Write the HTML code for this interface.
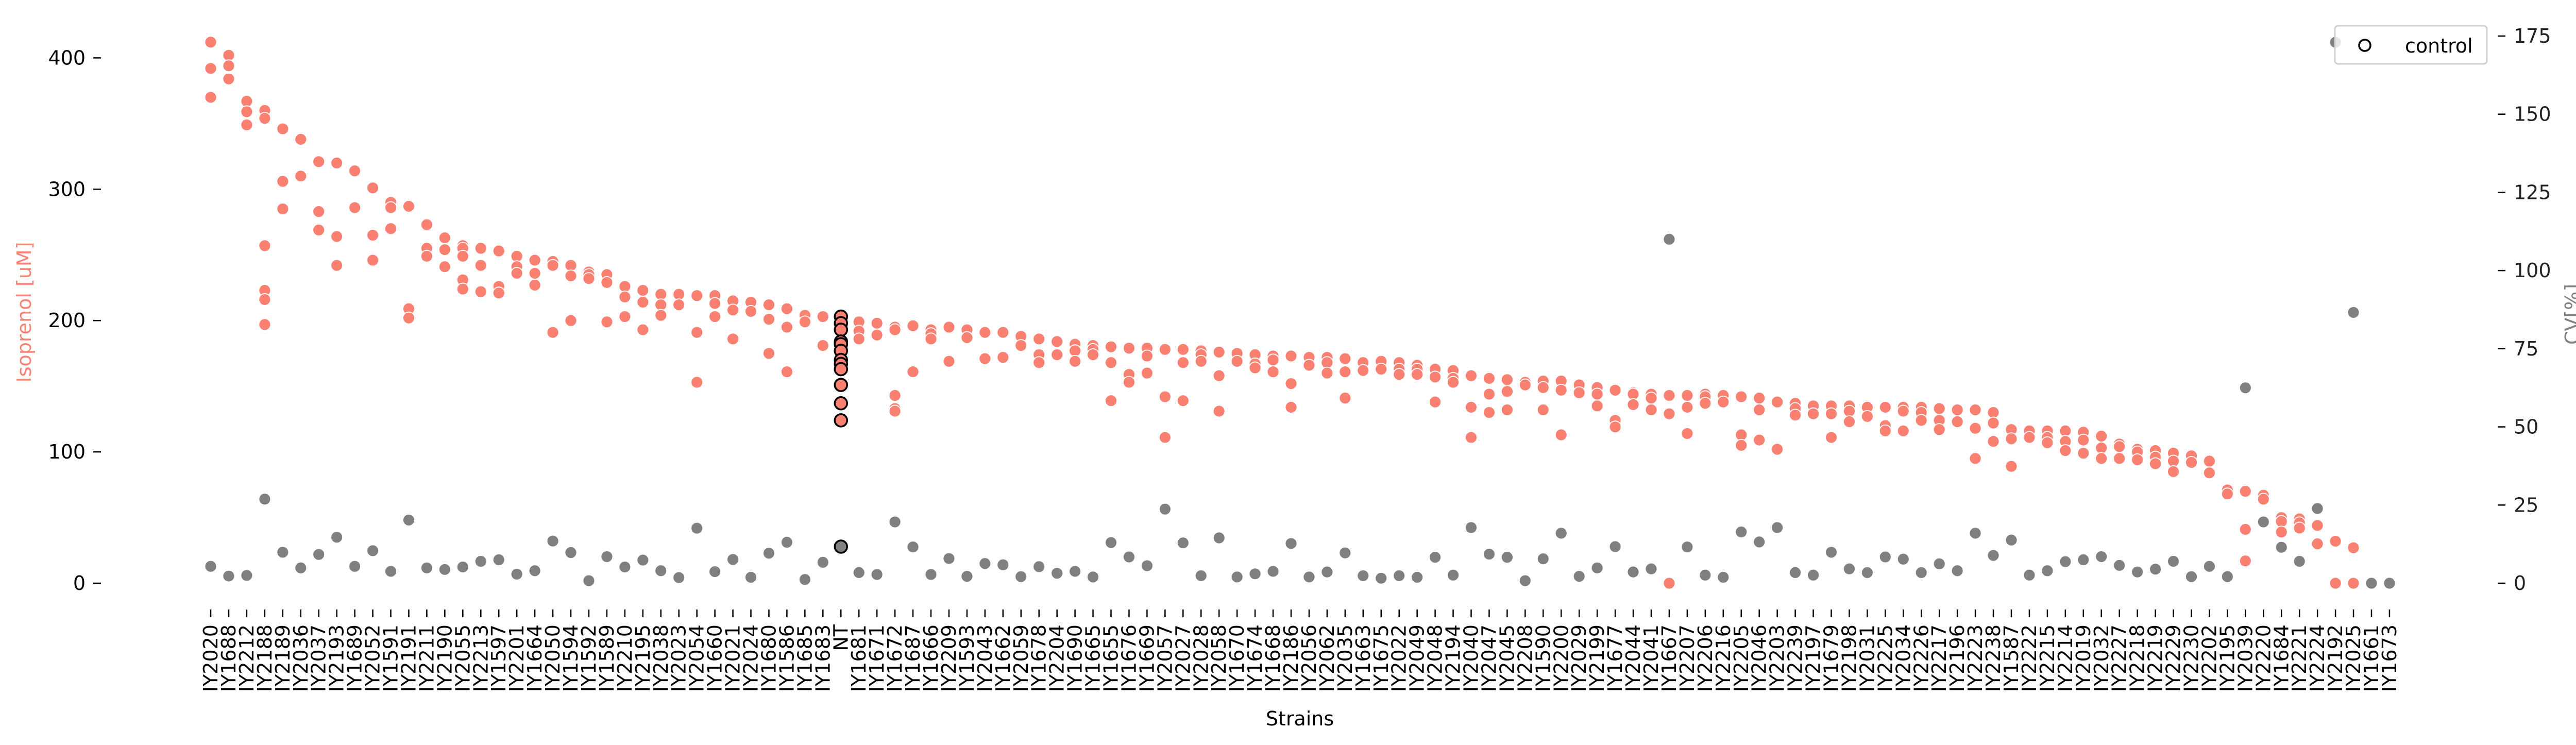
<!DOCTYPE html>
<html><head><meta charset="utf-8"><style>
html,body{margin:0;padding:0;background:#fff;}
svg{display:block;font-family:"DejaVu Sans","Liberation Sans",sans-serif;}
</style></head><body>
<svg id="chart" width="5044" height="1446" viewBox="0 0 5044 1446" xmlns="http://www.w3.org/2000/svg">
<g id="marks-iso"></g>
<g id="marks-cv"></g>
<g id="axes"></g>
<text x="0" y="0" transform="translate(60,606) rotate(-90)" text-anchor="middle" font-size="38" fill="#fa8072">Isoprenol [uM]</text>
<text x="0" y="0" transform="translate(5006,610) rotate(-90)" text-anchor="middle" font-size="38" fill="#808080">CV[%]</text>
<text x="2523" y="1408" text-anchor="middle" font-size="38" fill="#000">Strains</text>
<g>
<rect x="4532" y="50" width="295" height="74" rx="6" fill="#fff" fill-opacity="0.8" stroke="#d0d0d0" stroke-width="3"/>
<circle cx="4590" cy="88" r="11" fill="none" stroke="#000" stroke-width="3.5"/>
<text x="4668" y="102" font-size="38" fill="#000">control</text>
</g>
</svg>
<script>
const strains = ["IY2020","IY1688","IY2212","IY2188","IY2189","IY2036","IY2037","IY2193","IY1689","IY2052","IY1591","IY2191","IY2211","IY2190","IY2055","IY2213","IY1597","IY2201","IY1664","IY2050","IY1594","IY1592","IY1589","IY2210","IY2195","IY2038","IY2023","IY2054","IY1660","IY2021","IY2024","IY1680","IY1586","IY1685","IY1683","NT","IY1681","IY1671","IY1672","IY1687","IY1666","IY2209","IY1593","IY2043","IY1662","IY2059","IY1678","IY2204","IY1690","IY1665","IY1655","IY1676","IY1669","IY2057","IY2027","IY2028","IY2058","IY1670","IY1674","IY1668","IY2186","IY2056","IY2062","IY2035","IY1663","IY1675","IY2022","IY2049","IY2048","IY2194","IY2040","IY2047","IY2045","IY2208","IY1590","IY2200","IY2029","IY2199","IY1677","IY2044","IY2041","IY1667","IY2207","IY2206","IY2216","IY2205","IY2046","IY2203","IY2239","IY2197","IY1679","IY2198","IY2031","IY2225","IY2034","IY2226","IY2217","IY2196","IY2223","IY2238","IY1587","IY2222","IY2215","IY2214","IY2019","IY2032","IY2227","IY2218","IY2219","IY2229","IY2230","IY2202","IY2195","IY2039","IY2220","IY1684","IY2221","IY2224","IY2192","IY2025","IY1661","IY1673"];
const isoprenol = [
[412,392,370],[402,394,384],[367,359,349],[360,354,257,223,216,197],[346,306,285],[338,310],[321,283,269],[320,264,242],[314,286],[301,265,246],
[290,286,270],[287,209,202],[273,255,249],[263,254,241],[257,255,249,231,224],[255,242,222],[253,226,221],[249,241,236],[246,236,227],[245,242,191],
[242,234,200],[237,235,232],[235,229,199],[226,218,203],[223,214,193],[220,212,204],[220,212],[219,191,153],[219,213,203],[215,208,186],
[214,207],[212,201,175],[209,195,161],[204,199],[203,181],[203,198,193,184,182,177,170,167,163,151,137,124],[199,192,186],[198,189],[195,193,143,133,131],[196,161],
[193,190,186],[195,169],[193,187],[191,171],[191,172],[188,181],[186,174,168],[184,174],[182,177,169],[181,178,174],
[180,168,139],[179,159,153],[179,173,160],[178,142,111],[178,168,139],[177,174,169],[176,158,131],[175,169],[174,167,164],[173,170,161],
[173,152,134],[172,166],[172,168,160],[171,161,141],[168,162],[169,163],[168,163,159],[166,163,159],[163,157,138],[162,156,153],
[158,134,111],[156,144,130],[155,146,132],[153,151],[154,149,132],[154,147,113],[151,145],[149,144,135],[147,124,119],[145,144,136],
[144,141,132],[143,129,0],[143,134,114],[144,142,137],[143,138],[142,113,105],[141,132,109],[138,102],[137,133,128],[135,129],
[135,129,111],[135,131,123],[134,127],[134,120,116],[134,131,116],[134,130,124],[133,124,117],[132,123],[132,118,95],[130,122,108],
[117,110,89],[116,111],[116,111,107],[116,108,101],[115,109,99],[112,103,95],[106,104,95],[102,100,94],[101,96,91],[99,93,85],
[97,92],[93,84],[71,68],[70,41,17],[67,64],[50,47,39],[49,46,42],[44,30],[32,0],[27,0],
[0],[0]];
const cv = [5.4,2.3,2.5,26.9,9.9,4.9,9.2,14.7,5.4,10.4,3.8,20.2,4.9,4.4,5.2,7.0,7.5,2.9,4.0,13.5,
9.8,0.8,8.5,5.2,7.4,4.0,1.8,17.6,3.7,7.6,1.9,9.6,13.1,1.2,6.7,11.7,3.4,2.8,19.6,11.6,
2.8,7.9,2.2,6.3,5.9,2.1,5.3,3.2,3.8,2.0,13.0,8.4,5.6,23.7,12.9,2.4,14.5,2.0,3.0,3.8,
12.7,2.0,3.6,9.7,2.4,1.6,2.4,1.9,8.3,2.6,17.8,9.3,8.3,0.8,7.8,16.0,2.2,4.9,11.7,3.6,
4.6,110,11.6,2.6,1.9,16.4,13.2,17.8,3.4,2.6,9.9,4.6,3.4,8.4,7.7,3.4,6.2,4.0,16.0,8.9,
13.8,2.6,4.0,6.9,7.5,8.5,5.7,3.6,4.5,7.0,2.1,5.4,2.1,62.5,19.6,11.5,7.0,23.9,173,86.6,
0,0];
const controlName = "NT";
const leftTicks = [0,100,200,300,400];
const rightTicks = [0,25,50,75,100,125,150,175];

const NS = "http://www.w3.org/2000/svg";
const X0 = 409, DX = 34.95;
function xPos(i){ return X0 + i*DX; }
function yLeft(v){ return 1132 - v*2.549; }
function yRight(v){ return 1132 - v*6.069; }
function mk(tag, attrs, parent){
  const e = document.createElementNS(NS, tag);
  for (const k in attrs) e.setAttribute(k, attrs[k]);
  parent.appendChild(e);
  return e;
}
const gIso = document.getElementById('marks-iso');
const gCv = document.getElementById('marks-cv');
const gAx = document.getElementById('axes');

strains.forEach((s, i) => {
  const isCtrl = s === controlName;
  (isoprenol[i] || []).forEach(v => {
    const c = mk('circle', {cx: xPos(i), cy: yLeft(v), r: isCtrl ? 12 : 11.5, fill: '#fa8072', stroke: isCtrl ? '#000' : '#fff', 'stroke-width': isCtrl ? 3.5 : 1.8}, gIso);
    
    
  });
});
strains.forEach((s, i) => {
  const isCtrl = s === controlName;
  const c = mk('circle', {cx: xPos(i), cy: yRight(cv[i]), r: isCtrl ? 12 : 11.5, fill: '#808080', stroke: isCtrl ? '#000' : '#fff', 'stroke-width': isCtrl ? 3.5 : 1.8}, gCv);
  
  
});

leftTicks.forEach(t => {
  const y = yLeft(t);
  const l = mk('line', {x1: 181, x2: 196, y1: y, y2: y, stroke: '#000', 'stroke-width': 2.5}, gAx);
  
  
  const tx = mk('text', {x: 166, y: y + 13, 'text-anchor': 'end', 'font-size': 38, fill: '#000'}, gAx);
  tx.textContent = t;
  
  
});
rightTicks.forEach(t => {
  const y = yRight(t);
  const l = mk('line', {x1: 4848, x2: 4863, y1: y, y2: y, stroke: '#000', 'stroke-width': 2.5}, gAx);
  
  
  const tx = mk('text', {x: 4879, y: y + 13, 'text-anchor': 'start', 'font-size': 38, fill: '#222'}, gAx);
  tx.textContent = t;
  
  
});
strains.forEach((s, i) => {
  const x = xPos(i);
  const l = mk('line', {x1: x, x2: x, y1: 1183, y2: 1198, stroke: '#000', 'stroke-width': 2.5}, gAx);
  
  
  const tx = mk('text', {x: 0, y: 0, transform: `translate(${x + 13},1212) rotate(-90)`, 'text-anchor': 'end', 'font-size': 38, fill: '#000'}, gAx);
  tx.textContent = s;
  
  
});
</script>
</body></html>
